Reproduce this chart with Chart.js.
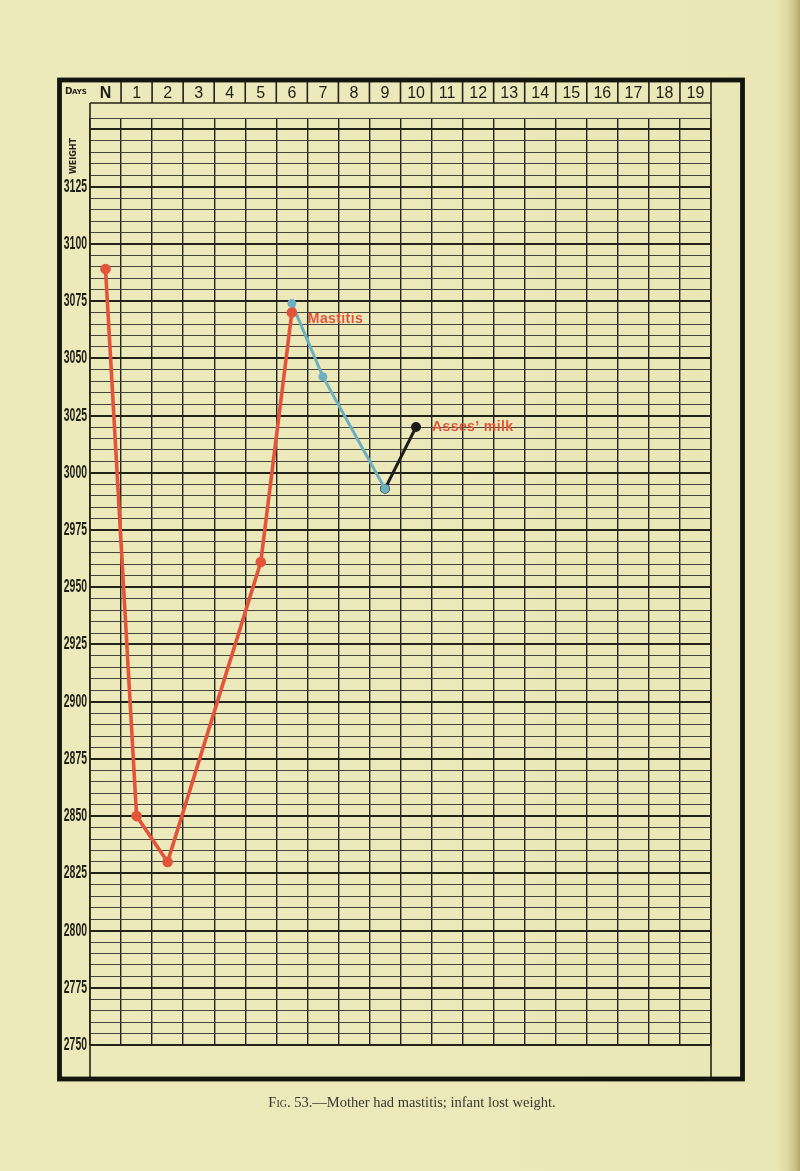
<!DOCTYPE html>
<html>
<head>
<meta charset="utf-8">
<script src="https://cdn.jsdelivr.net/npm/chart.js@4/dist/chart.umd.min.js"></script>
<style>
  html, body { margin: 0; padding: 0; }
  body {
    width: 800px; height: 1171px; position: relative; overflow: hidden;
    background: linear-gradient(to right, #ece9bb 0%, #eae7b7 97%, #ddd59e 98.6%, #c8bd7e 99.5%, #b3a767 100%);
  }
  #chart { position: absolute; left: 0; top: 0; }
  #caption {
    position: absolute; left: 0; width: 824px; top: 1094px; text-align: center;
    font-family: "Liberation Serif", "DejaVu Serif", serif; font-size: 14.5px; color: #38382f;
  }
  #caption .sc { font-variant: small-caps; }
</style>
</head>
<body>
<canvas id="chart" width="800" height="1171"></canvas>
<div id="caption"><span class="sc">Fig.</span> 53.—Mother had mastitis; infant lost weight.</div>
<script>
// day columns along the top of the sheet
const days = ["N", "1", "2", "3", "4", "5", "6", "7", "8", "9", "10", "11", "12", "13", "14", "15", "16", "17", "18", "19"];

// infant weight (grams), null where nothing is marked
const breastFed = [3089, 2850, 2830, null, null, 2961, 3070, null, null, null, null, null, null, null, null, null, null, null, null, null];
const mastitis = [null, null, null, null, null, null, 3074, 3042, null, 2993, null, null, null, null, null, null, null, null, null, null];
const assesMilk = [null, null, null, null, null, null, null, null, null, 2993, 3020, null, null, null, null, null, null, null, null, null];

const weightMin = 2750;
const weightMax = 3155;

// notes written beside the curves: [label, day index, weight where written]
const notes = [
  ["Mastitis", 6, 3067],
  ["Asses\u2019 milk", 10, 3020]
];

const ink = "#24231a";
const faint = "#45443a";
const red = "#e2553a";
const blue = "#6eb0c0";
const squeeze = 0.58;

// frame, header cells and hand written notes
const sheetPlugin = {
  id: "sheet",
  beforeDraw(chart) {
    // printed weight figures are tall and narrow: squeeze the library's own labels
    const ys = chart.scales.y;
    if (!ys._squeezed) {
      const orig = ys.drawLabels;
      ys.drawLabels = function (area) {
        const ctx = this.ctx;
        const ax = this.right - this.options.ticks.padding;
        const left = this.left;
        // the label clip box is taken from this.left, widen it to match the squeeze
        this.left = ax - (ax - left) / squeeze;
        ctx.save();
        ctx.translate(ax, 0);
        ctx.scale(squeeze, 1);
        ctx.translate(-ax, 0);
        orig.call(this, area);
        ctx.restore();
        this.left = left;
      };
      ys._squeezed = true;
    }
  },
  afterDraw(chart) {
    const ctx = chart.ctx;
    const xs = chart.scales.x;
    const ys = chart.scales.y;
    const area = chart.chartArea;
    const headTop = 80, headBottom = 103, sheetBottom = 1079;

    ctx.save();
    ctx.strokeStyle = ink;

    // inner rules round the grid
    ctx.lineWidth = 1.6;
    ctx.beginPath();
    ctx.moveTo(area.left, headBottom); ctx.lineTo(area.left, sheetBottom);
    ctx.moveTo(area.right, headTop); ctx.lineTo(area.right, sheetBottom);
    ctx.moveTo(area.left, headBottom); ctx.lineTo(area.right, headBottom);
    // header cell separators
    for (let i = 1; i < days.length; i++) {
      const bx = (xs.getPixelForValue(i - 1) + xs.getPixelForValue(i)) / 2;
      ctx.moveTo(bx, headTop); ctx.lineTo(bx, headBottom);
    }
    ctx.stroke();

    // heavy outer frame
    ctx.lineWidth = 4.8;
    ctx.strokeStyle = "#151510";
    ctx.strokeRect(59.5, headTop, 742.5 - 59.5, sheetBottom - headTop);

    // header words
    ctx.fillStyle = ink;
    ctx.textBaseline = "middle";
    ctx.font = "bold 9px 'DejaVu Sans'";
    ctx.textAlign = "left";
    ctx.fillText("D", 65, 92);
    ctx.font = "bold 7px 'DejaVu Sans'";
    ctx.fillText("AYS", 72, 92.5);

    ctx.save();
    ctx.translate(74, 156);
    ctx.rotate(-Math.PI / 2);
    ctx.textAlign = "center";
    ctx.font = "bold 8px 'DejaVu Sans'";
    ctx.fillText("WEIGHT", 0, 0);
    ctx.restore();

    // notes beside the curves
    ctx.fillStyle = red;
    ctx.font = "bold 14px 'Liberation Sans'";
    ctx.letterSpacing = "0.4px";
    ctx.textAlign = "left";
    notes.forEach(([text, day, w]) => {
      ctx.fillText(text, xs.getPixelForValue(day) + 16, ys.getPixelForValue(w));
    });
    ctx.restore();
  }
};

new Chart(document.getElementById("chart"), {
  type: "line",
  data: {
    labels: days,
    datasets: [
      { data: breastFed, borderColor: red, backgroundColor: red, borderWidth: 3.6, pointRadius: 3.5, spanGaps: true },
      { data: mastitis, borderColor: blue, backgroundColor: blue, borderWidth: 3, pointRadius: 3, spanGaps: true },
      { data: assesMilk, borderColor: "#1c1c1c", backgroundColor: "#1c1c1c", borderWidth: 3, pointRadius: 3.5 }
    ]
  },
  options: {
    responsive: false,
    animation: false,
    layout: { padding: { left: 62, top: 82, right: 89, bottom: 126 } },
    plugins: { legend: { display: false }, tooltip: { enabled: false } },
    elements: { line: { tension: 0 } },
    scales: {
      x: {
        position: "top",
        offset: true,
        afterFit: (s) => { s.height = 36; },
        grid: { offset: true, color: ink, lineWidth: 1.4, drawTicks: false },
        border: { display: false },
        ticks: {
          padding: 15, autoSkip: false, maxRotation: 0,
          color: "#1e1e18",
          font: (c) => ({ family: "'Liberation Sans', sans-serif", size: 16, weight: c.index === 0 ? "bold" : "normal" })
        }
      },
      y: {
        min: weightMin,
        max: weightMax,
        afterFit: (s) => { s.width = 28; },
        grid: {
          drawTicks: false,
          color: (c) => (c.tick && c.tick.value % 25 === 0 ? ink : faint),
          lineWidth: (c) => (c.tick && c.tick.value % 25 === 0 ? 2 : 1)
        },
        border: { display: false },
        ticks: {
          stepSize: 5, autoSkip: false, padding: 3,
          color: "#1e1e18",
          font: { family: "'Liberation Sans', sans-serif", size: 18, weight: "bold" },
          callback: (v) => (v % 25 === 0 && v <= 3125 ? String(v) : "")
        }
      }
    }
  },
  plugins: [sheetPlugin]
});
</script>
</body>
</html>
